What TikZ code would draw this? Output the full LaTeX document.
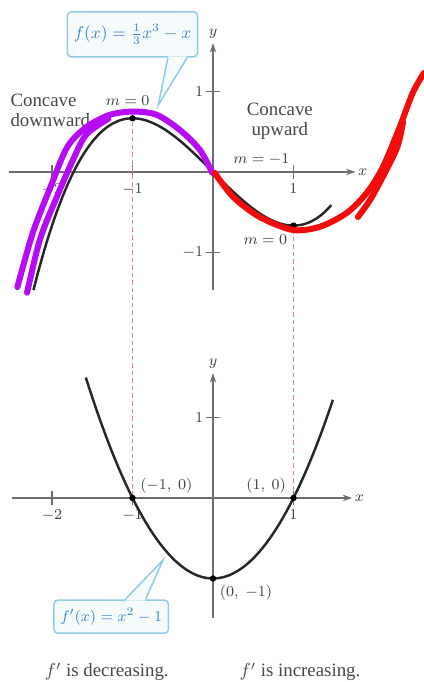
\documentclass[tikz,border=0pt]{standalone}
\usepackage{fontspec}
\setmainfont{Liberation Serif}
\usetikzlibrary{arrows.meta}
\usetikzlibrary{positioning}

\definecolor{axisgray}{HTML}{6E6E6E}
\definecolor{guidepink}{HTML}{E67D98}
\definecolor{boxblue}{HTML}{92CBE6}
\definecolor{boxfill}{HTML}{F5FAFD}
\definecolor{boxtext}{HTML}{3E84C4}
\definecolor{inkviolet}{HTML}{B70AF5}
\definecolor{inkred}{HTML}{F20C0C}

\tikzset{
  axis/.style={axisgray, line width=0.7pt, -{Stealth[length=5pt,width=3.4pt]}},
  tickmark/.style={axisgray, line width=0.7pt},
  curve/.style={black!85, line width=1.3pt},
  guide/.style={guidepink, line width=0.8pt, dash pattern=on 2.4pt off 1.6pt},
  dot/.style={circle, fill=black, inner sep=0pt, minimum size=3.4pt},
  lbl/.style={font=\fontsize{8.5}{10}\selectfont, text=black!75, inner sep=1pt},
  txt/.style={font=\fontsize{10}{10.6}\selectfont, text=black!72},
  callbox/.style={draw=boxblue, fill=boxfill, line width=0.8pt, rounded corners=2pt, text=boxtext},
  ink/.style={line width=3.2pt, line cap=round, line join=round},
}

\begin{document}
\begin{tikzpicture}[x=1.5cm,y=1.5cm]
\useasboundingbox (-2.646,-2.286) rectangle (2.621,6.186);

% upper graph, f(x) = x^3/3 - x
\begin{scope}[shift={(0,4.05)}]
\draw[axis] (-2.53,0) -- (1.77,0) node[lbl,right] (ux) {$x$};
\draw[axis] (0,-1.47) -- (0,1.6) node[lbl,above=1pt] (uy) {$y$};
\foreach \t/\n in {-2/a,-1/b,1/c}
  \draw[tickmark] (\t,-0.09) -- (\t,0.09) (\t,-0.09) node[lbl,below=1pt] (ut\n) {$\t$};
\draw[tickmark] (-0.09,1) -- (0.09,1) (-0.09,1) node[lbl,left] (uyt) {$1$};
\draw[tickmark] (-0.09,-1) -- (0.09,-1) (-0.09,-1) node[lbl,left] (uyb) {$-1$};
\draw[curve] plot[domain=-2.23:1.47,samples=80,smooth] (\x,{\x*\x*\x/3-\x});
\node[dot] (fmax) at (-1,2/3) {};
\node[dot] (fmin) at (1,-2/3) {};

\node[lbl] (mtop) at (-1.06,0.89) {$m = 0$};
\node[lbl] (mmid) at (0.6,0.15) {$m = -1$};
\node[lbl] (mlow) at (0.65,-0.84) {$m = 0$};
\node[txt,align=left,anchor=west,inner sep=0pt] (cdown) at (-2.52,0.77) {Concave\\downward};
\node[txt,align=center] (cup) at (0.83,0.63) {Concave\\upward};

% callout
\node[callbox, minimum width=2.415cm, minimum height=0.84cm,
  font=\fontsize{8.8}{10}\selectfont] (fbox) at (-1.0,1.71) {$f(x) = \frac{1}{3}x^3 - x$};
\coordinate (ftip) at (-0.68,0.83);
\fill[boxfill] ([xshift=0.66cm,yshift=0.6pt]fbox.south) -- (ftip) -- ([xshift=1.02cm,yshift=0.6pt]fbox.south) -- cycle;
\draw[boxblue, line width=0.8pt] ([xshift=0.66cm]fbox.south) -- (ftip) -- ([xshift=1.02cm]fbox.south);
\end{scope}

% lower graph, f'(x) = x^2 - 1
\draw[axis] (-2.5,0) -- (1.73,0) node[lbl,right] (lx) {$x$};
\draw[axis] (0,-1.49) -- (0,1.55) node[lbl,above=1pt] (ly) {$y$};
\foreach \t/\n in {-2/a,-1/b,1/c}
  \draw[tickmark] (\t,-0.09) -- (\t,0.09) (\t,-0.09) node[lbl,below=1pt] (lt\n) {$\t$};
\draw[tickmark] (-0.09,1) -- (0.09,1) (-0.09,1) node[lbl,left] (lyt) {$1$};
\draw[curve] plot[domain=-1.58:1.49,samples=60,smooth] (\x,{\x*\x-1});
\node[dot] (dl) at (-1,0) {};
\node[dot] (dr) at (1,0) {};
\node[dot] (dv) at (0,-1) {};
\node[lbl] (pl) at (-0.58,0.15) {$(-1,\ 0)$};
\node[lbl] (pr) at (0.66,0.15) {$(1,\ 0)$};
\node[lbl] (pv) at (0.41,-1.18) {$(0,\ -1)$};

% callout
\node[callbox, minimum width=2.085cm, minimum height=0.615cm,
  font=\fontsize{8.2}{10}\selectfont] (dbox) at (-1.265,-1.475) {$f'(x) = x^2 - 1$};
\coordinate (dtip) at (-0.62,-0.77);
\fill[boxfill] ([xshift=0.26cm,yshift=-0.6pt]dbox.north) -- (dtip) -- ([xshift=0.64cm,yshift=-0.6pt]dbox.north) -- cycle;
\draw[boxblue, line width=0.8pt] ([xshift=0.26cm]dbox.north) -- (dtip) -- ([xshift=0.64cm]dbox.north);

\node[txt] (cdec) at (-1.32,-2.16) {$f'$ is decreasing.};
\node[txt] (cinc) at (1.08,-2.16) {$f'$ is increasing.};

% dashed guides
\draw[guide] (fmax.south) -- (dl.north);
\draw[guide] (fmin.south) -- (dr.north);

% hand-drawn strokes on top
\begin{scope}[shift={(0,4.05)}]
\draw[ink,inkviolet] plot[smooth] coordinates {(-2.43,-1.43) (-2.24,-0.76) (-2.02,-0.19) (-1.81,0.31) (-1.57,0.56) (-1.28,0.71) (-0.99,0.75) (-0.70,0.71) (-0.41,0.52) (-0.16,0.27) (-0.01,-0.01)};
\draw[ink,inkviolet] plot[smooth] coordinates {(-2.31,-1.50) (-2.15,-0.84) (-1.94,-0.31) (-1.74,0.15) (-1.57,0.47) (-1.3,0.66)};
\draw[ink,inkred] plot[smooth] coordinates {(0.02,-0.01) (0.25,-0.31) (0.58,-0.56) (0.99,-0.72) (1.33,-0.68) (1.66,-0.51) (1.91,-0.26) (2.11,0.06) (2.32,0.56) (2.48,0.98) (2.62,1.23)};
\draw[ink,inkred] plot[smooth] coordinates {(1.80,-0.56) (1.95,-0.35) (2.11,-0.06) (2.29,0.31) (2.36,0.62)};
\end{scope}
\end{tikzpicture}
\end{document}
